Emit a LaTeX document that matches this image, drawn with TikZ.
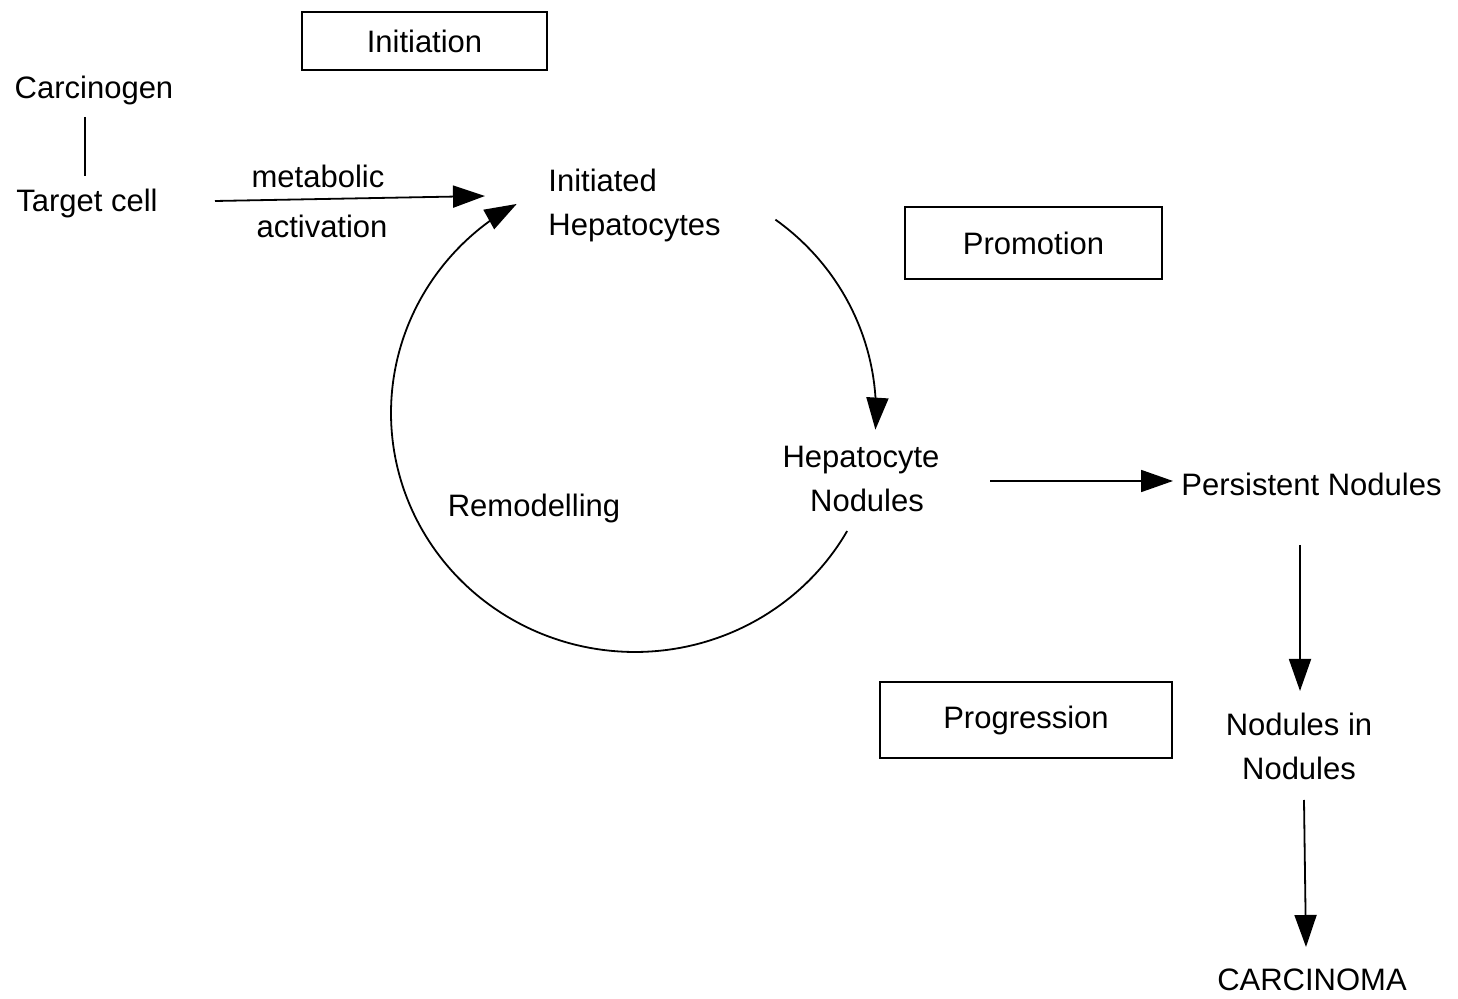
\documentclass[tikz,border=0pt]{standalone}
\usepackage{fontspec}
\setmainfont{Liberation Sans}
\usetikzlibrary{arrows.meta}
\begin{document}
\begin{tikzpicture}[x=0.5pt,y=-0.5pt,
  lbl/.style={inner sep=0pt, font=\fontsize{15.5}{22}\selectfont, align=center},
  stage/.style={draw, line width=1.2pt, inner sep=0pt, font=\fontsize{15.5}{22}\selectfont},
  ln/.style={line width=0.9pt},
  arr/.style={line width=0.9pt, -{Triangle[length=16pt,width=11pt]}}]
\useasboundingbox (0,0) rectangle (1458,999);

% stage boxes
\node[stage, minimum width=122.5pt, minimum height=29pt] (init) at (424.5,41) {Initiation};
\node[stage, minimum width=128.5pt, minimum height=36pt] (prom) at (1033.5,243) {Promotion};
\node[stage, minimum width=146pt, minimum height=38pt] (prog) at (1026,720) {\raisebox{-1.5pt}{Progression}};

% labels
\node[lbl] (carc) at (94,90) {Carcinogen};
\node[lbl] (tc) at (87,203) {Target cell};
\node[lbl] (met) at (318,176) {metabolic};
\node[lbl] (act) at (322,226) {activation};
\node[lbl, anchor=west, align=left] (ih) at (548,205) {Initiated\\Hepatocytes};
\node[lbl] (hn) at (861,479) {Hepatocyte\\\hspace*{6pt}Nodules};
\node[lbl, anchor=west] (pn) at (1181,484) {Persistent Nodules};
\node[lbl] (nin) at (1299,746) {Nodules in\\Nodules};
\node[lbl] (ca) at (1312,980) {CARCINOMA};
\node[lbl] (rem) at (534,508) {Remodelling};

% connector end points
\coordinate (c1) at (85,117);
\coordinate (c2) at (85,176);
\coordinate (m1) at (215,201);
\coordinate (m2) at (485,196);
\coordinate (h1) at (990,481);
\coordinate (h2) at (1173,481);
\coordinate (p1) at (1300,545);
\coordinate (p2) at (1300,691);
\coordinate (n1) at (1304,800);
\coordinate (n2) at (1306,947);

\draw[ln] (c1) -- (c2);
\draw[arr] (m1) -- (m2);
\draw[arr] (h1) -- (h2);
\draw[arr] (p1) -- (p2);
\draw[arr] (n1) -- (n2);

% promotion arc: Initiated Hepatocytes -> Hepatocyte Nodules
\draw[arr] plot[domain=-54:4, samples=50, smooth] ({632+244*cos(\x)},{413+239*sin(\x)});
% remodelling arc: Hepatocyte Nodules -> Initiated Hepatocytes
\draw[arr] plot[domain=29.6:241, samples=120, smooth] ({635+244*cos(\x)},{413+239*sin(\x)});
\end{tikzpicture}
\end{document}
